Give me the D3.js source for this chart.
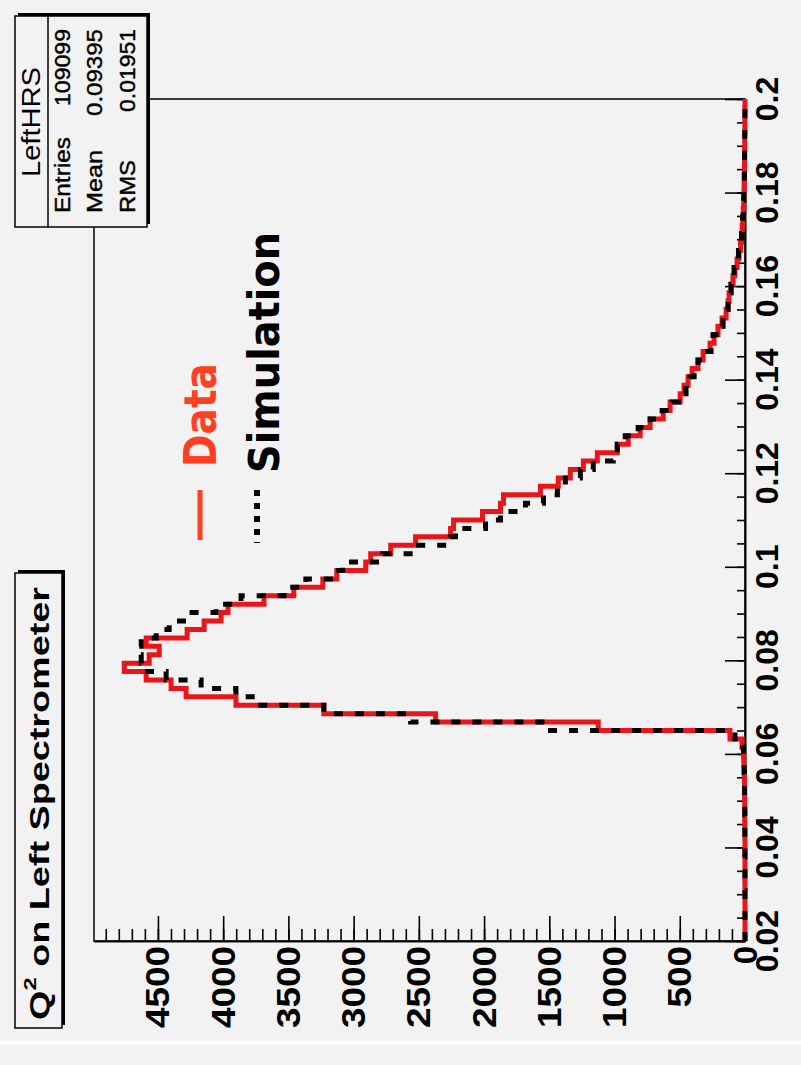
<!DOCTYPE html>
<html>
<head>
<meta charset="utf-8">
<script src="https://cdn.jsdelivr.net/npm/d3@7"></script>
<style>
  body { margin: 0; background: #f2f2f2; }
  text { font-family: "Liberation Sans", Arial, sans-serif; }
</style>
</head>
<body>
<div id="chart"></div>
<script>
// Q^2 histogram, 100 bins from 0.02 to 0.2 (page is drawn rotated by -90 deg)
var q2Range = [0.02, 0.2];
var q2Ticks = [0.02, 0.04, 0.06, 0.08, 0.1, 0.12, 0.14, 0.16, 0.18, 0.2];
var countTicks = [0, 500, 1000, 1500, 2000, 2500, 3000, 3500, 4000, 4500];

var dataCounts = [
  0, 0, 0, 0, 0, 0, 0, 1, 0, 0, 1, 0, 1, 1, 2, 1, 2, 3, 4, 5, 7, 9, 12, 23,
  115, 1125, 2372, 3228, 3902, 4284, 4399, 4590, 4758, 4567, 4490, 4590, 4276, 4146, 4016, 3963,
  3687, 3458, 3236, 3129, 2907, 2869, 2716, 2525, 2257, 2234, 2012, 1874, 1851, 1568, 1431, 1339,
  1239, 1132, 979, 895, 803, 727, 627, 574, 497, 467, 436, 405, 360, 321, 268, 237,
  207, 176, 145, 130, 122, 107, 92, 77, 61, 46, 34, 27, 21, 16, 13, 10, 8, 7,
  5, 4, 4, 3, 2, 2, 1, 1, 1, 0
];
var simCounts = [
  0, 0, 0, 0, 0, 0, 1, 0, 0, 1, 0, 0, 1, 1, 1, 2, 2, 3, 3, 4, 6, 8, 10, 15,
  77, 1515, 2563, 3228, 3733, 3902, 4169, 4437, 4613, 4628, 4651, 4628, 4513, 4414, 4284, 4054,
  3863, 3534, 3366, 3114, 3083, 2777, 2502, 2257, 2219, 1989, 1874, 1683, 1545, 1438, 1377, 1262,
  1163, 1010, 979, 918, 819, 727, 635, 558, 474, 452, 421, 390, 360, 321, 260, 245,
  222, 168, 145, 130, 115, 107, 92, 84, 61, 50, 38, 27, 21, 18, 13, 10, 9, 6,
  5, 4, 3, 3, 2, 2, 1, 1, 0, 0
];
var statsNames = ["Entries", "Mean", "RMS"];
var statsValues = ["109099", "0.09395", "0.01951"];

var W = 801, H = 1065;
var frame = {left: 94, right: 745, top: 99, bottom: 941};
var countMax = 4990;

var svg = d3.select("#chart").append("svg")
   .attr("width", W)
   .attr("height", H)
   .style("background", "#f2f2f2");

// Q^2 runs bottom -> top, counts run right -> left
var q = d3.scaleLinear().domain(q2Range).range([frame.bottom, frame.top]);
var c = d3.scaleLinear().domain([0, countMax]).range([frame.right, frame.left]);

function rtext(x, y, str, size, anchor, len) {
  var t = svg.append("text")
     .attr("transform", "translate(" + x + "," + y + ") rotate(-90)")
     .attr("text-anchor", anchor)
     .attr("dominant-baseline", "central")
     .style("font-size", size + "px")
     .text(str);
  if (len) t.attr("textLength", len).attr("lengthAdjust", "spacingAndGlyphs");
  return t;
}

// bottom white stripe of the canvas
svg.append("rect").attr("x", 0).attr("y", 1041).attr("width", W).attr("height", 3).style("fill", "#ffffff");

// frame
svg.append("rect")
   .attr("x", frame.left).attr("y", frame.top)
   .attr("width", frame.right - frame.left).attr("height", frame.bottom - frame.top)
   .style("fill", "none").style("stroke", "#000").style("stroke-width", 1.5);

// Q^2 axis (right side, ticks inward)
var q2Minor = d3.range(0, 37).map(function(i) { return 0.02 + i * 0.005; });
svg.append("g").attr("class", "ax")
   .attr("transform", "translate(" + frame.right + ",0)")
   .call(d3.axisLeft(q).tickValues(q2Minor).tickSize(8).tickSizeOuter(0).tickFormat(""));
svg.append("g").attr("class", "ax")
   .attr("transform", "translate(" + frame.right + ",0)")
   .call(d3.axisLeft(q).tickValues(q2Ticks).tickSize(20).tickSizeOuter(0).tickFormat(""));

// count axis (bottom, ticks inward)
var countMinor = d3.range(0, 50).map(function(i) { return i * 100; });
svg.append("g").attr("class", "ax")
   .attr("transform", "translate(0," + frame.bottom + ")")
   .call(d3.axisTop(c).tickValues(countMinor).tickSize(12).tickSizeOuter(0).tickFormat(""));
svg.append("g").attr("class", "ax")
   .attr("transform", "translate(0," + frame.bottom + ")")
   .call(d3.axisTop(c).tickValues(countTicks).tickSize(25).tickSizeOuter(0).tickFormat(""));
svg.selectAll(".ax path, .ax line").style("stroke", "#000").style("stroke-width", 1.6);

// tick labels
q2Ticks.forEach(function(v) {
  rtext(767, q(v), String(+v.toFixed(2)), 32, "middle").style("font-weight", "bold");
});
countTicks.forEach(function(v) {
  var s = String(v);
  rtext(c(v), 946, s, 33, "end", s.length > 1 ? 20.5 * s.length : null).style("font-weight", "bold");
});

// histograms
function histPath(counts) {
  var w = (q2Range[1] - q2Range[0]) / counts.length;
  var pts = [];
  counts.forEach(function(v, i) {
    var lo = q2Range[0] + i * w;
    pts.push([c(v), q(lo)]);
    pts.push([c(v), q(lo + w)]);
  });
  return d3.line()(pts);
}

svg.append("path")
   .attr("d", histPath(dataCounts))
   .style("fill", "none").style("stroke", "#e8161b").style("stroke-width", 5);
svg.append("path")
   .attr("d", histPath(simCounts))
   .style("fill", "none").style("stroke", "#000").style("stroke-width", 5)
   .style("stroke-dasharray", "9,12");

// legend
svg.append("line").attr("x1", 200).attr("x2", 200).attr("y1", 490).attr("y2", 540)
   .style("stroke", "#ff4020").style("stroke-width", 5);
rtext(200, 467, "Data", 44, "start", 104)
   .style("font-family", "DejaVu Sans").style("font-weight", "bold").style("fill", "#ff4020");
svg.append("line").attr("x1", 257).attr("x2", 257).attr("y1", 490).attr("y2", 543)
   .style("stroke", "#000").style("stroke-width", 6).style("stroke-dasharray", "6,7");
rtext(264, 473, "Simulation", 42, "start", 241)
   .style("font-family", "DejaVu Sans").style("font-weight", "bold");

// stats box
svg.append("rect").attr("x", 18).attr("y", 13).attr("width", 132).attr("height", 211).style("fill", "#000");
svg.append("rect").attr("x", 15).attr("y", 16).attr("width", 132).attr("height", 211)
   .style("fill", "#f2f2f2").style("stroke", "#000").style("stroke-width", 1.5);
svg.append("line").attr("x1", 48).attr("x2", 48).attr("y1", 16).attr("y2", 227)
   .style("stroke", "#000").style("stroke-width", 1.5);
rtext(31, 122, "LeftHRS", 25, "middle", 110);
var nameLen = [76, 63, 53], valLen = [77, 87, 83];
statsNames.forEach(function(s, i) {
  rtext(62 + i * 32.5, 213, s, 22, "start", nameLen[i]).style("stroke", "#000").style("stroke-width", 0.4);
  rtext(62 + i * 32.5, 29, statsValues[i], 22, "end", valLen[i]).style("stroke", "#000").style("stroke-width", 0.4);
});

// title box
svg.append("rect").attr("x", 18).attr("y", 570).attr("width", 47).attr("height", 455).style("fill", "#000");
svg.append("rect").attr("x", 15).attr("y", 573).attr("width", 47).attr("height", 455)
   .style("fill", "#f2f2f2").style("stroke", "#000").style("stroke-width", 1.5);
var title = rtext(40, 1020, "", 27, "start", 433).style("font-weight", "bold");
title.append("tspan").text("Q");
title.append("tspan").attr("baseline-shift", "super").style("font-size", "17px").text("2");
title.append("tspan").text(" on Left Spectrometer");
</script>
</body>
</html>
